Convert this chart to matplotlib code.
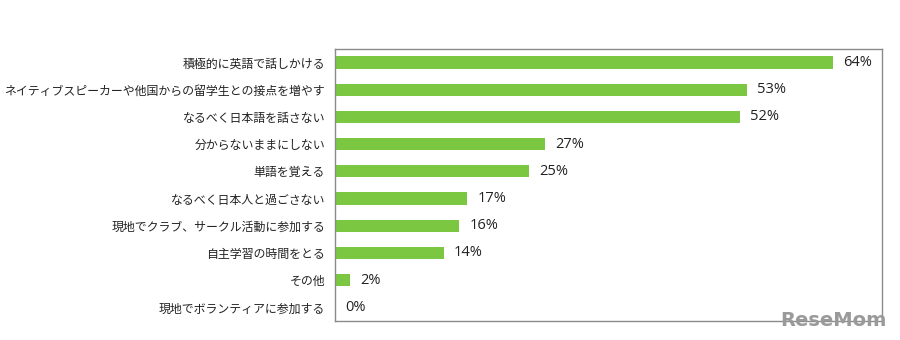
import matplotlib
matplotlib.use("Agg")
import matplotlib.pyplot as plt

plt.rcParams["font.family"] = ["Noto Sans CJK JP", "DejaVu Sans"]

categories = [
    "積極的に英語で話しかける",
    "ネイティブスピーカーや他国からの留学生との接点を増やす",
    "なるべく日本語を話さない",
    "分からないままにしない",
    "単語を覚える",
    "なるべく日本人と過ごさない",
    "現地でクラブ、サークル活動に参加する",
    "自主学習の時間をとる",
    "その他",
    "現地でボランティアに参加する",
]
values = [64, 53, 52, 27, 25, 17, 16, 14, 2, 0]

fig = plt.figure(figsize=(9, 3.4), dpi=100)
ax = fig.add_axes([0.372, 0.056, 0.608, 0.8])

ypos = list(range(len(categories)))
ax.barh(ypos, values, height=0.45, color="#7cc742")
for y, v in zip(ypos, values):
    ax.text(v + 1.3, y, f"{v}%", va="center", ha="left", fontsize=10.5,
            color="#222222", family=["Open Sans", "DejaVu Sans"])

ax.set_yticks(ypos)
ax.set_yticklabels(categories, fontsize=8.6, color="#222222")
ax.set_ylim(len(categories) - 0.5, -0.5)
ax.set_xlim(0, 70.3)
ax.set_xticks([])
ax.tick_params(axis="y", length=0, pad=7)
for s in ax.spines.values():
    s.set_color("#8a8a8a")
    s.set_linewidth(1)

fig.text(0.985, 0.03, "ReseMom", ha="right", va="bottom", fontsize=14,
         fontweight="bold", color="#9a9a9a", family="DejaVu Sans")

fig.savefig("out.png", dpi=100)
